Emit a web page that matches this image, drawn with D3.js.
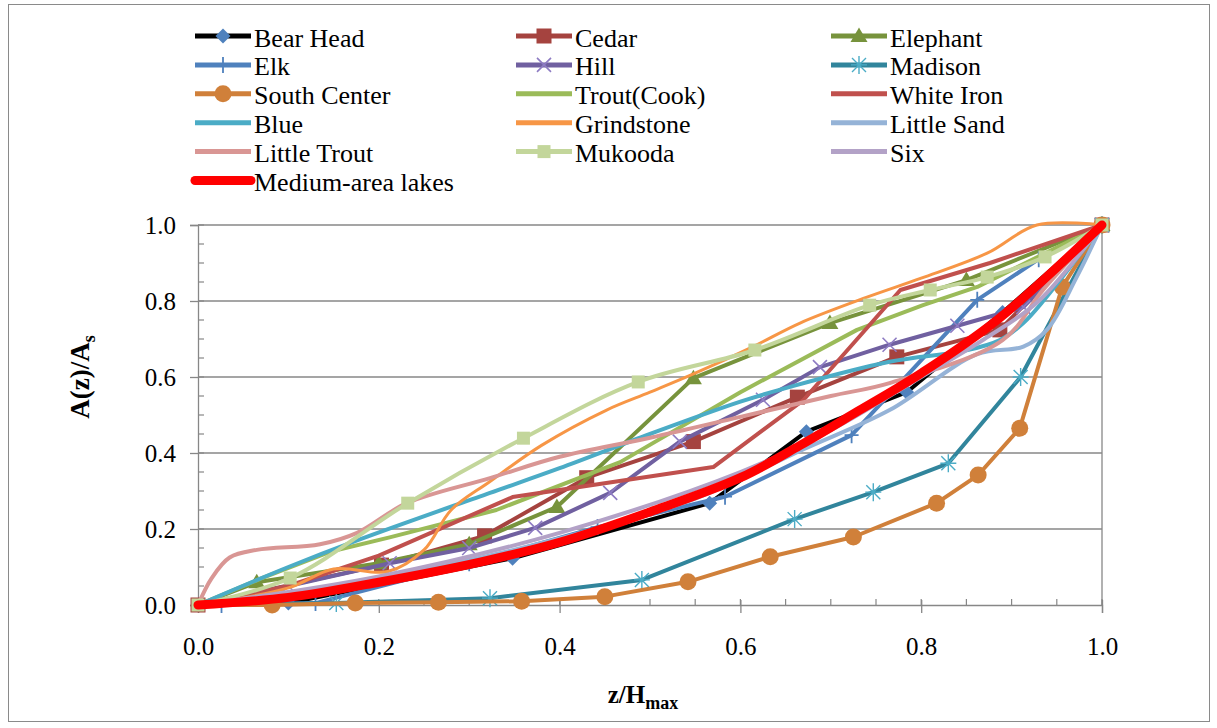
<!DOCTYPE html>
<html><head><meta charset="utf-8">
<script src="https://cdn.jsdelivr.net/npm/d3@7"></script>
</head>
<body style="margin:0"><svg id="c" width="1217" height="728" font-family="Liberation Serif" style="font-family:'Liberation Serif'"></svg>
<script>
// ---------- data ----------
const xTicks = [0, 0.2, 0.4, 0.6, 0.8, 1.0];
const yTicks = [0, 0.2, 0.4, 0.6, 0.8, 1.0];
const minorStep = 0.05;

const seriesNames = ["Bear Head","Cedar","Elephant","Elk","Hill","Madison","South Center","Trout(Cook)","White Iron","Blue","Grindstone","Little Sand","Little Trout","Mukooda","Six","Medium-area lakes"];

const bearHead   = [[0,0],[0.1,0.005],[0.348,0.123],[0.566,0.268],[0.673,0.456],[0.784,0.56],[0.89,0.77],[1,1]];
const cedar      = [[0,0],[0.203,0.105],[0.317,0.182],[0.43,0.335],[0.548,0.43],[0.663,0.547],[0.773,0.653],[0.887,0.724],[1,1]];
const elephant   = [[0,0],[0.065,0.06],[0.2,0.11],[0.3,0.16],[0.397,0.258],[0.548,0.597],[0.699,0.742],[0.85,0.855],[1,1]];
const elk        = [[0,0],[0.026,0],[0.13,0.005],[0.3,0.11],[0.442,0.205],[0.583,0.285],[0.723,0.447],[0.862,0.803],[0.93,0.91],[1,1]];
const hill       = [[0,0],[0.1,0.05],[0.212,0.11],[0.3,0.15],[0.373,0.203],[0.456,0.295],[0.533,0.43],[0.625,0.54],[0.688,0.626],[0.765,0.685],[0.84,0.735],[0.913,0.784],[1,1]];
const madison    = [[0,0],[0.153,0.005],[0.323,0.018],[0.491,0.066],[0.66,0.226],[0.747,0.297],[0.83,0.373],[0.91,0.6],[1,1]];
const southCenter= [[0,0],[0.082,0],[0.174,0.005],[0.266,0.007],[0.358,0.01],[0.45,0.022],[0.542,0.061],[0.633,0.127],[0.725,0.179],[0.817,0.268],[0.863,0.342],[0.909,0.465],[0.956,0.837],[1,1]];
const troutCook  = [[0,0],[0.07,0.07],[0.146,0.14],[0.212,0.178],[0.33,0.25],[0.467,0.376],[0.6,0.56],[0.729,0.724],[0.802,0.789],[0.862,0.837],[1,1]];
const whiteIron  = [[0,0],[0.1,0.05],[0.2,0.13],[0.348,0.284],[0.57,0.363],[0.67,0.54],[0.777,0.829],[0.876,0.9],[1,1]];
const blue       = [[0,0],[0.1,0.1],[0.176,0.17],[0.323,0.295],[0.4,0.36],[0.5,0.45],[0.6,0.535],[0.655,0.574],[0.765,0.64],[0.85,0.67],[0.887,0.697],[0.913,0.742],[0.935,0.8],[1,1]];
const grindstone = [[0,0],[0.1,0.045],[0.15,0.095],[0.21,0.088],[0.25,0.145],[0.28,0.25],[0.323,0.325],[0.38,0.42],[0.452,0.513],[0.5,0.56],[0.55,0.61],[0.614,0.68],[0.666,0.742],[0.74,0.81],[0.8,0.86],[0.873,0.926],[0.928,1.0],[1,1]];
const littleSand = [[0,0],[0.2,0.07],[0.4,0.175],[0.55,0.28],[0.67,0.41],[0.765,0.513],[0.862,0.66],[0.913,0.68],[0.939,0.724],[0.972,0.863],[1,1]];
const littleTrout= [[0,0],[0.015,0.07],[0.035,0.125],[0.065,0.145],[0.135,0.16],[0.176,0.19],[0.231,0.268],[0.323,0.334],[0.4,0.39],[0.5,0.44],[0.6,0.495],[0.7,0.55],[0.765,0.584],[0.89,0.697],[0.935,0.83],[1,1]];
const mukooda    = [[0,0],[0.102,0.071],[0.232,0.268],[0.36,0.439],[0.487,0.587],[0.616,0.671],[0.743,0.789],[0.81,0.829],[0.873,0.863],[0.937,0.916],[1,1]];
const six        = [[0,0],[0.2,0.075],[0.4,0.19],[0.6,0.35],[0.7,0.46],[0.8,0.6],[0.87,0.7],[0.93,0.8],[1,1]];
const mediumArea = [[0,0],[0.1,0.02],[0.2,0.06],[0.312,0.113],[0.4,0.165],[0.5,0.245],[0.6,0.335],[0.666,0.42],[0.73,0.51],[0.8,0.61],[0.884,0.75],[1,1]];

const seriesData = [bearHead,cedar,elephant,elk,hill,madison,southCenter,troutCook,whiteIron,blue,grindstone,littleSand,littleTrout,mukooda,six,mediumArea];

// ---------- styles ----------
const lineColors  = ["#000000","#A5433F","#77933C","#4F81BD","#7060A0","#31859C","#D0803A","#9BBB59","#C0504D","#4BACC6","#F79646","#95B3D7","#D99694","#C3D69B","#B3A2C7","#FF0000"];
const markerTypes = ["diamond","square","triangle","plus","x","asterisk","circle",null,null,null,null,null,null,"square",null,null];
const markerColors= ["#4F81BD","#A5433F","#77933C","#4F81BD","#8E7CC3","#4BACC6","#D0803A",null,null,null,null,null,null,"#C3D69B",null,null];
const markerFrom  = [1,0,1,1,1,1,1,0,0,0,0,0,0,0,0,0];
const lineWidths  = [4,4,4,4,4,4,4,4,4,4,3,4,4,4,4,9];
const smooth      = [false,false,false,false,false,false,false,false,false,true,true,true,true,true,true,true];

function setFont(sel, size, bold){
  sel.attr("font-family","Liberation Serif").attr("font-size",size)
     .style("font-family","'Liberation Serif'").style("font-size",size+"px");
  if(bold) sel.attr("font-weight","bold").style("font-weight","bold");
  return sel;
}

// ---------- layout ----------
const svg = d3.select("#c");
const X0=198, X1=1102, Y0=605, Y1=225;
const x = d3.scaleLinear().domain([0,1]).range([X0,X1]);
const y = d3.scaleLinear().domain([0,1]).range([Y0,Y1]);
const fmt = d3.format(".1f");
const gridColor = "#878787";

svg.append("rect").attr("x",8.5).attr("y",4.5).attr("width",1201).attr("height",717)
  .attr("fill","none").attr("stroke","#8a8a8a").attr("stroke-width",1);

svg.append("g").selectAll("line").data(yTicks.filter(d=>d>0)).join("line")
  .attr("x1",X0).attr("x2",X1).attr("y1",d=>y(d)).attr("y2",d=>y(d))
  .attr("stroke",gridColor).attr("stroke-width",1.3);
svg.append("line").attr("x1",X1).attr("x2",X1).attr("y1",Y1).attr("y2",Y0).attr("stroke",gridColor).attr("stroke-width",1.3);

const minor = d3.range(0, 1.0001, minorStep).map(v=>+v.toFixed(2));
const yAxisG = svg.append("g").attr("transform",`translate(${X0},0)`)
  .call(d3.axisLeft(y).tickValues(yTicks).tickFormat(fmt).tickSize(8).tickPadding(14));
const xAxisG = svg.append("g").attr("transform",`translate(0,${Y0})`)
  .call(d3.axisBottom(x).tickValues(xTicks).tickFormat(fmt).tickSize(8).tickPadding(24));
[yAxisG,xAxisG].forEach(g=>{
  setFont(g, 25);
  g.select(".domain").attr("stroke",gridColor).attr("stroke-width",1.3);
  g.selectAll(".tick line").attr("stroke",gridColor).attr("stroke-width",1.3);
  setFont(g.selectAll(".tick text"), 25).attr("fill","#000");
});
xAxisG.selectAll(".tick line").attr("y1",-5);
svg.append("g").selectAll("line").data(minor).join("line")
  .attr("x1",X0).attr("x2",X0+6).attr("y1",d=>y(d)).attr("y2",d=>y(d))
  .attr("stroke",gridColor).attr("stroke-width",1.2);
svg.append("g").selectAll("line").data(minor).join("line")
  .attr("x1",d=>x(d)).attr("x2",d=>x(d)).attr("y1",Y0).attr("y2",Y0-6)
  .attr("stroke",gridColor).attr("stroke-width",1.2);

const yl = setFont(svg.append("text").attr("transform","translate(89,377) rotate(-90)").attr("text-anchor","middle"), 27, true);
yl.append("tspan").text("A(z)/A");
setFont(yl.append("tspan").attr("dy",6), 18, true).text("s");
const xl = setFont(svg.append("text").attr("x",643).attr("y",703).attr("text-anchor","middle"), 25, true);
xl.append("tspan").text("z/H");
setFont(xl.append("tspan").attr("dy",6), 18, true).text("max");

function drawMarker(g, type, color, cx, cy){
  if(!type) return;
  if(type==="diamond"){
    g.append("path").attr("d",`M${cx},${cy-7.5}L${cx+7.5},${cy}L${cx},${cy+7.5}L${cx-7.5},${cy}Z`).attr("fill",color);
  } else if(type==="square"){
    const r = color==="#C3D69B" ? 6.5 : 7.5;
    g.append("rect").attr("x",cx-r).attr("y",cy-r).attr("width",2*r).attr("height",2*r).attr("fill",color);
  } else if(type==="triangle"){
    g.append("path").attr("d",`M${cx},${cy-8.5}L${cx+8.5},${cy+6}L${cx-8.5},${cy+6}Z`).attr("fill",color);
  } else if(type==="circle"){
    g.append("circle").attr("cx",cx).attr("cy",cy).attr("r",8.5).attr("fill",color);
  } else if(type==="plus"){
    g.append("path").attr("d",`M${cx-7},${cy}H${cx+7}M${cx},${cy-8}V${cy+8}`).attr("stroke",color).attr("stroke-width",1.8).attr("fill","none");
  } else if(type==="x"){
    g.append("path").attr("d",`M${cx-7},${cy-7}L${cx+7},${cy+7}M${cx-7},${cy+7}L${cx+7},${cy-7}`).attr("stroke",color).attr("stroke-width",1.6).attr("fill","none");
  } else if(type==="asterisk"){
    g.append("path").attr("d",`M${cx-8},${cy}H${cx+8}M${cx},${cy-9}V${cy+9}M${cx-7},${cy-7}L${cx+7},${cy+7}M${cx-7},${cy+7}L${cx+7},${cy-7}`).attr("stroke",color).attr("stroke-width",1.4).attr("fill","none");
  }
}

const plotG = svg.append("g");
seriesData.forEach((pts,i)=>{
  const gen = d3.line().x(d=>x(d[0])).y(d=>y(d[1]))
    .curve(smooth[i] ? d3.curveCatmullRom.alpha(0.5) : d3.curveLinear);
  const g = plotG.append("g");
  g.append("path").datum(pts).attr("d",gen).attr("fill","none")
    .attr("stroke",lineColors[i]).attr("stroke-width",lineWidths[i])
    .attr("stroke-linejoin","round").attr("stroke-linecap","round");
  pts.forEach((p,j)=>{ if(j>=markerFrom[i]) drawMarker(g, markerTypes[i], markerColors[i], x(p[0]), y(p[1])); });
});

const colX = [195, 516, 831];
const rowY0 = 36, rowDy = 28.9;
const legG = svg.append("g");
seriesNames.forEach((name,i)=>{
  const c = i%3, r = Math.floor(i/3);
  const lx = colX[c], ly = rowY0 + r*rowDy;
  const w = i===15 ? 9 : 5;
  legG.append("line").attr("x1",lx).attr("x2",lx+56).attr("y1",ly).attr("y2",ly)
    .attr("stroke",lineColors[i]).attr("stroke-width",w).attr("stroke-linecap",i===15?"round":"butt");
  drawMarker(legG, markerTypes[i], markerColors[i], lx+28, ly);
  setFont(legG.append("text").attr("x",lx+59).attr("y",ly+10.5), 26).text(name);
});
</script></body></html>
